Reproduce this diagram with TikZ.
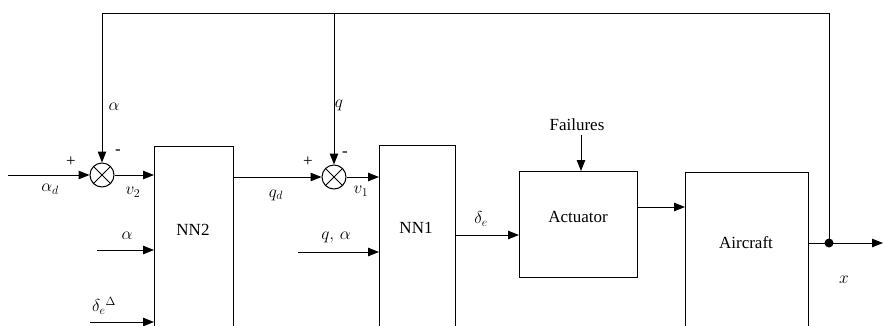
\documentclass[tikz,border=0pt]{standalone}
\usepackage{fontspec}
\setmainfont{Liberation Serif}
\usetikzlibrary{arrows.meta}
\begin{document}
\begin{tikzpicture}[x=1pt,y=-1pt,
  line width=1pt,
  every node/.style={font=\fontsize{17}{20}\selectfont, inner sep=0pt},
  blk/.style={draw, rectangle, anchor=north west, inner sep=0pt},
  sumj/.style={draw, circle, minimum size=24pt, inner sep=0pt},
  arr/.style={-{Triangle[length=11pt,width=8.5pt]}}
]
\useasboundingbox (0,0) rectangle (883,325);
\clip (0,0) rectangle (883,325);
% blocks
\node[blk, minimum width=79pt, minimum height=200pt] (nn2) at (154,146) {};
\node[blk, minimum width=76pt, minimum height=200pt] (nn1) at (379,145) {};
\node[blk, minimum width=118pt, minimum height=106pt] (act) at (519,171) {};
\node[blk, minimum width=123pt, minimum height=200pt] (air) at (685,172) {};
\node (nn2t) at (193,230) {NN2};
\node (nn1t) at (416,228) {NN1};
\node (actt) at (578,217) {Actuator};
\node (airt) at (746,243) {Aircraft};
% summing junctions
\node[sumj] (s1) at (102,175) {};
\node[sumj] (s2) at (334,177) {};
\foreach \s in {s1,s2}{
  \draw (\s.north west) -- (\s.south east);
  \draw (\s.north east) -- (\s.south west);
}
% coordinates
\coordinate (in1) at (8,175);
\coordinate (ina) at (97,250);
\coordinate (ind) at (90,322);
\coordinate (inq) at (298,252);
\coordinate (fl) at (581,135);
\coordinate (outx) at (883,243);
\coordinate (br) at (829,243);
\coordinate (top1) at (102,13);
\coordinate (top2) at (334,13);
\coordinate (topr) at (829,13);
% connectors
\draw[arr] (in1) -- (s1.west);
\draw[arr] (s1.east) -- (nn2.west |- s1.east);
\draw[arr] (ina) -- (nn2.west |- ina);
\draw[arr] (ind) -- (nn2.west |- ind);
\draw[arr] (nn2.east |- s2.west) -- (s2.west);
\draw[arr] (s2.east) -- (nn1.west |- s2.east);
\draw[arr] (inq) -- (nn1.west |- inq);
\draw[arr] (nn1.east |- 0,235) -- (act.west |- 0,235);
\draw[arr] (fl) -- (act.north -| fl);
\draw[arr] (act.east |- 0,207) -- (air.west |- 0,207);
\draw[arr] (air.east |- br) -- (outx);
\draw (br) -- (topr) -- (top1);
\draw[arr] (top1) -- (s1.north);
\draw[arr] (top2) -- (s2.north);
\fill (br) circle (4.5pt);
% labels
\node (p1) at (71,162) {+};
\node (m1) at (118,152) {-};
\node (p2) at (308,162) {+};
\node (m2) at (345,154) {-};
\node (lad) at (50,189) {$\alpha_d$};
\node (lv2) at (133,192) {$v_2$};
\node (la) at (127,236) {$\alpha$};
\node (ld) at (104,306) {$\delta_e{}^{\Delta}$};
\node (lqd) at (276,195) {$q_d$};
\node (lv1) at (361,191) {$v_1$};
\node (lqa) at (336,237) {$q,\,\alpha$};
\node (lde) at (481,219) {$\delta_e$};
\node (lfail) at (577,125) {Failures};
\node (lx) at (844,280) {$x$};
\node (lat) at (114,107) {$\alpha$};
\node (lqt) at (339,105) {$q$};
\end{tikzpicture}
\end{document}
